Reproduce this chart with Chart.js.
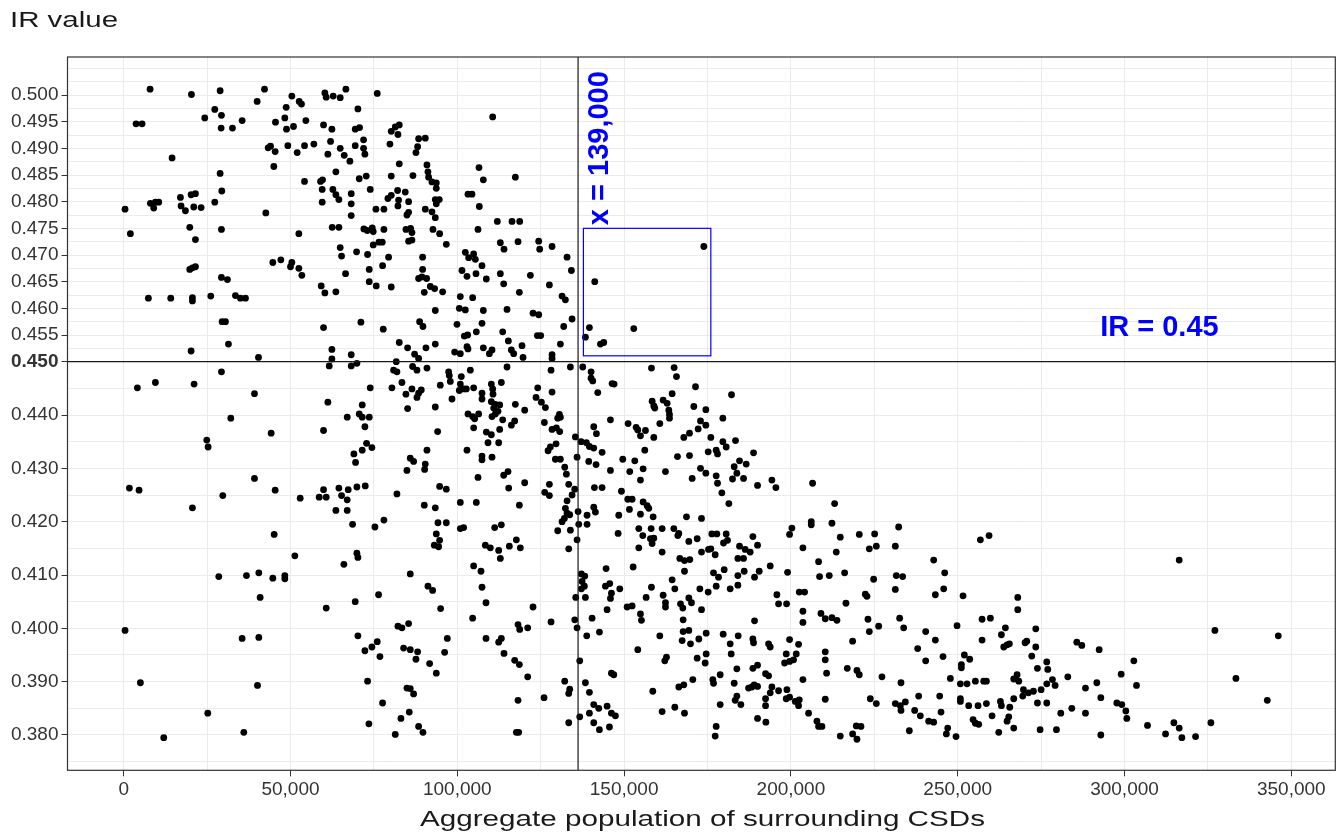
<!DOCTYPE html>
<html>
<head>
<meta charset="utf-8">
<title>IR value vs aggregate population of surrounding CSDs</title>
<script src="https://cdn.jsdelivr.net/npm/chart.js@4.4.1/dist/chart.umd.min.js"></script>
<style>
  html, body { margin: 0; padding: 0; background: #fff; }
  #wrap { width: 1340px; height: 836px; }
</style>
</head>
<body>
<div id="wrap"><canvas id="irChart" width="1340" height="836"></canvas></div>
<script>
// aggregate population of surrounding CSDs, in thousands
const popK = [
  7.9, 20.3, 28.9, 42.2, 40.0, 50.4, 52.6, 53.3, 48.7, 27.3,
  29.3, 24.3, 35.5, 29.2, 32.6, 3.7, 5.5, 45.5, 48.3, 48.8,
  50.9, 54.6, 60.3, 60.7, 62.8, 64.9, 66.6, 76.0, 70.2, 59.9,
  62.4, 69.4, 70.7, 71.9, 44.0, 43.3, 45.4, 49.2, 52.0, 54.2,
  57.0, 62.0, 64.9, 61.2, 66.1, 67.8, 69.4, 71.9, 72.3, 14.5,
  45.0, 28.9, 63.6, 54.2, 59.0, 59.6, 59.5, 62.7, 70.6, 72.7,
  73.9, 29.4, 27.3, 17.0, 20.2, 21.5, 8.0, 9.5, 9.0, 10.5,
  0.4, 17.2, 18.5, 21.0, 23.2, 42.6, 63.6, 64.5, 68.2, 68.2,
  59.5, 68.2, 75.6, 78.0, 2.0, 19.8, 21.5, 29.3, 52.5, 62.5,
  64.5, 72.0, 73.0, 74.5, 74.8, 78.0, 74.8, 76.5, 77.5, 64.9,
  65.3, 69.8, 73.1, 44.7, 47.1, 50.4, 50.0, 52.5, 53.4, 19.8,
  21.5, 20.6, 29.3, 31.1, 73.6, 77.6, 66.5, 73.6, 75.7, 59.2,
  60.3, 63.6,
  110.6, 80.2, 81.4, 82.6, 82.2, 79.8, 88.4, 90.4, 88.1, 87.6,
  82.6, 80.2, 86.7, 90.9, 91.2, 91.4, 92.4, 93.7, 93.7, 106.5,
  107.8, 117.4, 103.2, 104.4, 106.6, 82.1, 84.4, 80.2, 79.2, 82.4,
  85.4, 82.2, 93.4, 94.6, 93.7, 90.4, 92.4, 93.4, 84.9, 85.4,
  84.6, 86.0, 86.4, 92.7, 94.7, 96.7, 86.4, 85.4, 106.2, 112.0,
  116.4, 118.7, 112.9, 114.0, 118.2, 124.4, 124.7, 128.4, 79.4, 89.6,
  89.6, 88.4, 89.4, 90.8, 91.9, 93.2, 95.6, 90.1, 80.2, 102.4,
  103.4, 104.9, 105.4, 107.4, 101.4, 102.9, 105.6, 108.7, 112.9, 113.9,
  121.9, 127.6, 132.9, 134.2, 118.6, 141.2, 173.9,
  7.4, 14.1, 20.6, 20.6, 26.1, 33.5, 35.0, 36.5, 29.5, 30.5,
  31.4, 20.2, 40.4, 29.3, 9.5, 4.1, 21.1, 39.2, 32.1, 44.2,
  24.9, 25.3, 39.2, 1.7, 4.6, 45.4, 29.7, 20.6, 59.9, 71.1,
  77.8, 62.4, 62.4, 61.6, 68.2, 68.2, 69.9, 73.9, 61.2, 71.5,
  67.0, 70.6, 71.5, 73.6, 72.3, 59.9, 72.8, 74.4, 71.5, 69.0,
  69.5, 59.9, 64.5, 67.3, 69.9, 72.4, 52.9, 58.6, 60.7, 65.3,
  67.0, 63.6, 67.0, 68.6, 75.3, 78.0, 45.1,
  100.9, 104.6, 131.4, 132.4, 93.4, 100.6, 102.4, 107.8, 114.9, 122.7,
  124.4, 134.4, 88.7, 89.7, 99.9, 107.4, 105.7, 103.1, 102.1, 113.6,
  124.0, 125.0, 131.9, 139.6, 138.4, 152.9, 142.9, 143.9, 82.6, 85.1,
  90.6, 93.4, 87.2, 88.4, 99.2, 100.9, 102.9, 103.2, 107.8, 110.4,
  109.6, 115.3, 116.2, 116.9, 119.4, 119.7, 130.9, 128.4, 128.4, 81.7,
  80.9, 81.9, 86.6, 87.9, 90.9, 97.4, 97.6, 101.2, 103.9, 114.9,
  128.1, 133.9, 137.6, 140.1, 140.1, 140.6, 158.2, 165.0, 165.7, 80.4,
  83.4, 86.4, 84.6, 89.2, 88.4, 87.9, 94.9, 97.9, 100.9, 100.6,
  101.9, 102.7, 104.9, 107.4, 107.4, 110.2, 110.6, 110.7, 113.2, 124.1,
  128.4, 146.4, 147.0, 142.1, 171.4, 164.4, 85.1, 93.4, 98.4, 110.2,
  111.4, 112.7, 110.9, 112.2, 111.4, 110.4, 103.2, 104.6, 106.4, 105.2,
  117.4, 120.2, 123.6, 125.2, 126.4, 130.6, 130.9, 130.1, 158.4, 158.9,
  159.2, 161.7, 162.9, 163.4, 163.6, 163.6, 170.9, 172.9, 145.9, 113.6,
  112.7, 117.2, 116.2, 104.9, 108.7, 110.2, 109.2, 112.4, 94.1, 126.1,
  128.4, 129.7, 130.7, 135.4, 137.1, 138.7, 139.6, 140.9, 140.9, 141.7,
  143.4, 151.2, 153.6, 154.1, 154.9, 156.4, 158.9, 160.7, 167.9, 169.6,
  172.2, 156.2, 90.9, 102.9, 85.9, 86.9, 84.9, 90.4, 90.2, 107.4,
  107.4, 110.4, 127.2, 127.9, 129.6, 129.4, 130.9, 132.2, 132.7, 135.9,
  139.4, 141.6, 145.9, 149.6, 153.2, 151.7, 155.7, 154.9, 162.4, 166.0,
  169.6, 172.9, 170.4, 106.2, 113.9, 115.2, 94.7, 96.7, 81.9, 115.4,
  120.2, 127.6, 126.2, 127.6, 133.4, 135.2, 134.4, 132.9, 136.2, 141.1,
  143.4, 149.2, 151.1, 152.4, 155.7, 156.9, 90.1, 93.4, 100.9, 105.7,
  118.6, 132.4, 132.9, 132.1, 131.4, 133.7, 140.9, 141.4, 138.9, 136.4,
  138.9, 148.4, 151.6, 154.9, 157.4, 158.7, 168.7, 173.2, 94.2, 96.7,
  100.9, 101.9, 111.2, 113.2, 93.7, 130.1, 133.9, 148.2, 154.4, 158.1,
  161.4, 164.9, 166.4,
  182.2, 174.5, 174.5, 179.6, 176.0, 179.6, 180.6, 183.4, 175.2, 177.6,
  178.0, 188.8, 184.6, 186.6, 183.0, 183.8, 182.5, 185.8, 174.5, 177.6,
  178.0, 179.3, 190.0, 194.3, 195.5, 206.5, 181.4, 213.1, 200.3, 206.1,
  206.1, 212.3, 232.3,
  51.3, 69.9, 70.2, 66.0, 28.5, 36.8, 40.5, 44.7, 48.3, 48.3,
  40.9, 60.7, 69.4, 76.4, 0.4, 35.5, 40.5, 70.2, 72.3, 74.4,
  76.0, 76.8, 5.0, 40.1, 73.1, 77.6, 25.2, 73.5, 36.0, 12.0,
  94.7, 93.1, 94.4, 108.4, 109.9, 112.4, 112.9, 115.6, 117.7, 118.9,
  135.9, 133.4, 85.9, 91.2, 92.6, 95.0, 104.9, 107.1, 107.4, 108.6,
  104.6, 82.2, 83.4, 85.4, 97.0, 96.2, 83.9, 85.9, 88.1, 87.6,
  91.7, 93.7, 108.6, 112.4, 113.2, 114.0, 117.2, 118.6, 121.1, 118.2,
  118.7, 121.1, 122.7, 128.1, 135.2, 135.9, 84.9, 85.9, 86.9, 85.6,
  83.1, 81.4, 88.4, 89.7, 118.2, 117.7, 118.4, 126.0, 132.2, 133.7,
  133.4, 133.4, 136.7, 136.7, 135.5, 137.2, 138.2, 137.4, 138.1, 137.2,
  138.4, 138.8, 140.4, 142.6, 144.6, 144.4, 145.7, 146.2, 145.9, 144.9,
  148.7, 138.4, 139.6, 140.9, 142.4, 139.6, 140.9, 142.6, 144.9, 146.2,
  147.4, 145.6, 146.2, 146.9, 150.9, 152.4, 154.9, 155.2, 154.1, 152.7,
  154.4, 155.6, 157.9, 158.4, 158.9, 161.4, 166.1, 166.7, 168.1, 169.7,
  168.1, 169.4, 171.9, 173.2, 164.4, 158.2, 165.2, 156.6, 161.7, 162.4,
  162.4, 166.9, 167.6, 169.4, 170.2, 172.7, 173.2, 167.7, 167.7, 169.4,
  167.4, 169.9, 172.4, 160.7, 162.7, 162.2, 171.9, 170.6, 167.9, 166.4,
  158.6, 161.4, 165.2, 168.1,
  176.3, 177.8, 180.6, 188.6, 199.6, 214.8, 220.5, 225.1, 256.8, 259.4,
  175.3, 176.0, 177.3, 179.8, 181.0, 184.6, 186.3, 187.8, 190.0, 184.1,
  185.8, 176.8, 178.3, 180.0, 184.1, 186.0, 189.1, 190.5, 193.8, 199.0,
  175.2, 177.6, 181.8, 184.1, 195.8, 196.3, 198.7, 189.1, 202.5, 204.1,
  203.6, 208.3, 208.6, 211.5, 213.6, 216.1, 203.6, 203.6, 209.0, 210.3,
  212.3, 213.8, 216.5, 222.3, 222.8, 223.5, 225.6, 224.8, 231.3, 231.6,
  233.5, 231.3, 223.1, 223.5, 226.3, 232.6, 233.8, 242.8, 246.1, 243.3,
  245.8, 251.6, 257.3, 259.8, 268.0, 268.0, 264.3, 263.1, 257.3, 264.8,
  263.8, 265.5, 249.8, 240.4, 243.3, 238.0, 240.4, 245.6, 247.8, 252.0,
  253.6, 251.1, 251.1, 250.8, 252.8, 255.3, 257.8, 258.6, 266.8, 267.8,
  268.3, 179.7, 181.8, 182.1, 184.2, 174.6, 174.6, 174.3, 188.6, 188.8,
  193.3, 193.8, 199.6, 202.3, 198.6, 201.6, 198.1, 199.6, 200.8, 210.3,
  210.3, 210.7, 203.6, 183.8, 188.6, 190.0, 192.4, 193.3, 176.6, 176.8,
  178.8, 183.0, 187.3, 188.3, 189.0, 190.0, 194.3, 193.8, 196.3, 198.8,
  198.6, 199.6, 201.3, 202.3, 202.5, 192.4, 192.4, 183.8, 183.3, 185.0,
  178.8, 190.0, 192.5, 177.6, 177.3, 205.3, 207.8, 208.3, 209.3, 210.3,
  216.9, 219.8, 220.5, 218.5, 227.3, 223.8, 225.6, 219.6, 221.0, 218.5,
  219.8, 214.8, 233.0, 231.3, 232.8, 234.3, 233.0, 237.1, 238.8, 238.3,
  235.5, 241.3, 242.8, 244.6, 245.0, 247.0, 246.6, 249.5, 250.8, 250.8,
  253.3, 256.1, 258.6, 254.6, 255.3, 256.3, 260.3, 262.3, 262.8, 263.1,
  265.6, 266.8, 265.3, 264.8, 266.8,
  316.4, 273.4, 270.2, 270.7, 273.4, 272.2, 273.9, 276.7, 277.0, 278.4,
  279.2, 276.7, 275.0, 272.7, 271.2, 269.7, 269.5, 283.0, 285.7, 287.2,
  292.4, 288.3, 291.7, 292.9, 273.9, 276.7, 280.9, 284.2, 288.3, 274.7,
  279.6, 292.9, 302.8, 299.0, 303.6, 297.7, 299.2, 300.4, 300.7, 306.9,
  312.3, 314.8, 316.4, 317.2, 321.3, 325.9, 327.1, 333.4, 342.8, 346.1
];

// IR value of each CSD, same order as popK
const irValues = [
  .5011, .5001, .5008, .5011, .4988, .4998, .4988, .4983, .4977, .4973,
  .4962, .4957, .4952, .4938, .4938, .4946, .4946, .4949, .4957, .4936,
  .4941, .4952, .5004, .4996, .4998, .4995, .5011, .5003, .4974, .4944,
  .4936, .4936, .4939, .4916, .4904, .4901, .4894, .4905, .4892, .4905,
  .4908, .4913, .4900, .4889, .4887, .4876, .4905, .4900, .4889, .4882,
  .4866, .4853, .4856, .4838, .4838, .4841, .4823, .4823, .4843, .4848,
  .4823, .4820, .4799, .4808, .4813, .4815, .4797, .4799, .4788, .4799,
  .4786, .4792, .4783, .4790, .4789, .4779, .4813, .4804, .4815, .4796,
  .4799, .4774, .4786, .4786, .4740, .4752, .4729, .4748, .4740, .4752,
  .4752, .4749, .4746, .4751, .4744, .4748, .4719, .4724, .4724, .4714,
  .4698, .4706, .4701, .4686, .4691, .4686, .4678, .4675, .4662, .4673,
  .4678, .4676, .4658, .4654, .4673, .4680, .4665, .4650, .4642, .4642,
  .4629, .4631,
  .4959, .4932, .4940, .4944, .4926, .4908, .4918, .4919, .4903, .4892,
  .4871, .4848, .4849, .4869, .4856, .4846, .4837, .4835, .4825, .4864,
  .4841, .4846, .4814, .4814, .4791, .4821, .4818, .4812, .4806, .4803,
  .4800, .4792, .4804, .4804, .4796, .4786, .4781, .4770, .4775, .4780,
  .4748, .4750, .4742, .4748, .4740, .4720, .4728, .4726, .4748, .4763,
  .4763, .4763, .4723, .4711, .4725, .4726, .4711, .4716, .4696, .4696,
  .4673, .4656, .4659, .4656, .4641, .4637, .4631, .4630, .4640, .4705,
  .4695, .4702, .4692, .4680, .4671, .4660, .4665, .4655, .4665, .4646,
  .4662, .4644, .4696, .4671, .4630, .4650, .4716,
  .4619, .4619, .4620, .4614, .4623, .4624, .4619, .4619, .4575, .4575,
  .4533, .4520, .4508, .4481, .4461, .4451, .4458, .4440, .4394, .4366,
  .4353, .4340, .4281, .4263, .4259, .4259, .4249, .4226, .4564, .4574,
  .4561, .4523, .4505, .4492, .4513, .4492, .4497, .4451, .4424, .4419,
  .4396, .4402, .4396, .4396, .4378, .4371, .4347, .4339, .4334, .4327,
  .4311, .4260, .4263, .4260, .4265, .4267, .4244, .4246, .4246, .4249,
  .4241, .4221, .4221, .4195, .4190, .4203, .4176,
  .4622, .4620, .4623, .4616, .4596, .4600, .4597, .4596, .4598, .4591,
  .4588, .4580, .4575, .4566, .4570, .4572, .4556, .4550, .4548, .4556,
  .4549, .4549, .4566, .4564, .4546, .4562, .4533, .4536, .4536, .4526,
  .4526, .4533, .4514, .4506, .4518, .4515, .4528, .4524, .4526, .4522,
  .4515, .4539, .4522, .4515, .4530, .4508, .4533, .4513, .4506, .4500,
  .4484, .4481, .4491, .4484, .4488, .4481, .4474, .4472, .4484, .4490,
  .4484, .4490, .4490, .4481, .4469, .4464, .4488, .4489, .4472, .4451,
  .4461, .4449, .4439, .4447, .4441, .4433, .4456, .4463, .4458, .4446,
  .4449, .4449, .4451, .4441, .4430, .4458, .4449, .4439, .4461, .4451,
  .4443, .4459, .4458, .4442, .4453, .4440, .4412, .4415, .4430, .4425,
  .4420, .4419, .4413, .4407, .4402, .4397, .4402, .4397, .4402, .4393,
  .4420, .4409, .4433, .4424, .4414, .4401, .4396, .4394, .4426, .4417,
  .4413, .4428, .4422, .4409, .4401, .4394, .4416, .4389, .4391, .4391,
  .4373, .4389, .4381, .4376, .4368, .4363, .4348, .4348, .4369, .4386,
  .4373, .4376, .4369, .4359, .4350, .4348, .4341, .4338, .4378, .4365,
  .4330, .4384, .4377, .4372, .4361, .4371, .4358, .4384, .4358, .4366,
  .4374, .4334, .4334, .4334, .4319, .4313, .4296, .4308, .4298, .4323,
  .4316, .4321, .4333, .4340, .4346, .4317, .4317, .4302, .4289, .4321,
  .4313, .4307, .4296, .4317, .4314, .4294, .4299, .4278, .4294, .4322,
  .4324, .4300, .4281, .4283, .4287, .4294, .4266, .4261, .4252, .4263,
  .4273, .4270, .4255, .4249, .4270, .4261, .4250, .4239, .4219, .4264,
  .4264, .4257, .4242, .4242, .4237, .4230, .4231, .4226, .4236, .4236,
  .4231, .4225, .4216, .4206, .4200, .4213, .4227, .4218, .4212, .4195,
  .4195, .4212, .4223, .4214, .4225, .4209, .4209, .4206, .4198, .4198,
  .4187, .4189, .4189, .4194, .4177, .4183, .4184, .4178, .4187, .4187,
  .4187, .4187, .4178,
  .4438, .4410, .4381, .4394, .4358, .4350, .4340, .4352, .4331, .4334,
  .4327, .4329, .4314, .4308, .4303, .4291, .4280, .4281, .4291, .4286,
  .4272, .4254, .4268, .4278, .4264, .4272, .4234, .4234, .4188, .4200,
  .4194, .4197, .4190,
  .4136, .4141, .4133, .4120, .4097, .4099, .4104, .4094, .4099, .4093,
  .4058, .4038, .4050, .4063, .3996, .3981, .3983, .3986, .3958, .3965,
  .3975, .3947, .3898, .3893, .3901, .3860, .3841, .3821, .3805, .3795,
  .4165, .4156, .4153, .4156, .4151, .4146, .4131, .4154, .4166, .4151,
  .4166, .4149, .4102, .4079, .4071, .4037, .4117, .4107, .4077, .4048,
  .4019, .4004, .4001, .4009, .3981, .3955, .3963, .3960, .3956, .3942,
  .3934, .3916, .3981, .3974, .3981, .3953, .3940, .3932, .3909, .4007,
  .3998, .4001, .4040, .4012, .4016, .4001, .3888, .3887, .3877, .3843,
  .3831, .3801, .3816, .3805, .3865, .3805, .3805, .3870, .3901, .3886,
  .3878, .3823, .3939, .3834, .4058, .4102, .4098, .4088, .4079, .4074,
  .4058, .3986, .4019, .3993, .4112, .4079, .4084, .4066, .4056, .4035,
  .4074, .3898, .3880, .3857, .3850, .3841, .3823, .3810, .3854, .3841,
  .3836, .3815, .3916, .3913, .4040, .4042, .4027, .4015, .3960, .4115,
  .4151, .4174, .4168, .4159, .4169, .4143, .4174, .4131, .4127, .4129,
  .4107, .4163, .4168, .4143, .4091, .4077, .4074, .4058, .4062, .4048,
  .4040, .4046, .4038, .4057, .4048, .4074, .4035, .4016, .3994, .3996,
  .3977, .3971, .3980, .3986, .3946, .3939, .3944, .3904, .3894, .3890,
  .3882, .3844, .3852, .3841,
  .4177, .4177, .4177, .4172, .4176, .4171, .4176, .4177, .4166, .4174,
  .4148, .4149, .4138, .4160, .4165, .4154, .4148, .4143, .4156, .4131,
  .4131, .4104, .4096, .4110, .4099, .4107, .4096, .4107, .4117, .4105,
  .4068, .4079, .4074, .4081, .4063, .4046, .4046, .4014, .4068, .4068,
  .4151, .4125, .4097, .4099, .4143, .4104, .4032, .4011, .4028, .4018,
  .4020, .4015, .4047, .4064, .4060, .4149, .4154, .4092, .4154, .4099,
  .4097, .4073, .4017, .3994, .4004, .4019, .4001, .4128, .4104, .4063,
  .4074, .4061, .4017, .4019, .4058, .4035, .4001, .3988, .3978, .3969,
  .3965, .3971, .4005, .3994, .3978, .3962, .3939, .3947, .3906, .3950,
  .3942, .3932, .3926, .3896, .3896, .3901, .3901, .3901, .3905, .3913,
  .3901, .3989, .3971, .3952, .3986, .3991, .3952, .3935, .3980, .3973,
  .3971, .3965, .3979, .3970, .3952, .3952, .3935, .3938, .3941, .3956,
  .3941, .3916, .3904, .3924, .3925, .3931, .3915, .3911, .3904, .3897,
  .3913, .3897, .3888, .3890, .3894, .3891, .3890, .3879, .3883, .3885,
  .3868, .3871, .3863, .3855, .3866, .3868, .3855, .3873, .3865, .3857,
  .3857, .3831, .3824, .3816, .3798, .3841, .3826, .3816, .3816, .3867,
  .3925, .3921, .3913, .3976, .3909, .3868, .3859, .3817, .3816, .3802,
  .3792, .3798, .3898, .3859, .3855, .3862, .3846, .3846, .3836, .3873,
  .3808, .3826, .3824, .3873, .3843, .3813, .3802, .3797, .3868, .3863,
  .3855, .3855, .3859, .3829, .3822, .3820, .3836, .3805, .3863, .3855,
  .3852, .3868, .3834, .3826, .3813,
  .4128, .3999, .3973, .3976, .3965, .3948, .3925, .3937, .3923, .3904,
  .3893, .3896, .3885, .3882, .3879, .3885, .3873, .3909, .3974, .3968,
  .3960, .3888, .3898, .3870, .3860, .3860, .3841, .3850, .3841, .3810,
  .3810, .3800, .3939, .3914, .3893, .3860, .3857, .3845, .3831, .3818,
  .3802, .3823, .3813, .3795, .3797, .3823, .3996, .3906, .3865, .3986
];

const xTickLabels = [0, 50000, 100000, 150000, 200000, 250000, 300000, 350000];
const xMinorGrid = [25000, 75000, 125000, 175000, 225000, 275000, 325000];
const yTickLabels = [0.38, 0.39, 0.40, 0.41, 0.42, 0.43, 0.44, 0.45, 0.455,
  0.46, 0.465, 0.47, 0.475, 0.48, 0.485, 0.49, 0.495, 0.50];
const yMinorGrid = [0.375, 0.385, 0.395, 0.405, 0.415, 0.425, 0.435, 0.445,
  0.4525, 0.4575, 0.4625, 0.4675, 0.4725, 0.4775, 0.4825, 0.4875, 0.4925, 0.4975,
  0.5025, 0.505];

const refX = 136200;
const refY = 0.45;
const boxX = [137800, 176000];
const boxY = [0.4511, 0.475];

const points = popK.map((p, i) => ({ x: p * 1000, y: irValues[i] }));

const FONT = "'Liberation Sans', Arial, sans-serif";

function drawStretched(ctx, text, x, y, font, width) {
  ctx.font = font;
  const w = ctx.measureText(text).width;
  ctx.save();
  ctx.translate(x, y);
  ctx.scale(width / w, 1);
  ctx.fillText(text, 0, 0);
  ctx.restore();
}

const overlay = {
  id: "overlay",
  afterDatasetsDraw(chart) {
    const { ctx, chartArea: a, scales } = chart;
    const x = scales.x, y = scales.y;
    ctx.save();

    // reference lines
    const lx = x.getPixelForValue(refX);
    const ly = y.getPixelForValue(refY);
    ctx.strokeStyle = "#1a1a1a";
    ctx.lineWidth = 1.2;
    ctx.beginPath();
    ctx.moveTo(a.left, ly);
    ctx.lineTo(a.right, ly);
    ctx.moveTo(lx, a.top);
    ctx.lineTo(lx, a.bottom);
    ctx.stroke();

    // highlight box
    const bx0 = x.getPixelForValue(boxX[0]);
    const bx1 = x.getPixelForValue(boxX[1]);
    const by0 = y.getPixelForValue(boxY[1]);
    const by1 = y.getPixelForValue(boxY[0]);
    ctx.strokeStyle = "#0000ff";
    ctx.lineWidth = 1.2;
    ctx.strokeRect(bx0, by0, bx1 - bx0, by1 - by0);

    // blue labels
    ctx.fillStyle = "#0000ff";
    ctx.textAlign = "left";
    ctx.textBaseline = "middle";
    ctx.font = "bold 29px " + FONT;
    ctx.fillText("IR = 0.45", x.getPixelForValue(292700), y.getPixelForValue(0.4563));

    ctx.translate(x.getPixelForValue(142900), y.getPixelForValue(0.4756));
    ctx.rotate(-Math.PI / 2);
    ctx.fillText("x = 139,000", 0, 0);
    ctx.restore();

    // panel border
    ctx.save();
    ctx.strokeStyle = "#333333";
    ctx.lineWidth = 1.2;
    ctx.strokeRect(a.left, a.top, a.right - a.left, a.bottom - a.top);
    ctx.restore();
  },
  afterDraw(chart) {
    const { ctx } = chart;
    ctx.save();
    ctx.fillStyle = "#1a1a1a";
    ctx.textAlign = "left";
    ctx.textBaseline = "alphabetic";
    drawStretched(ctx, "IR value", 10, 27, "22px " + FONT, 108);
    drawStretched(ctx, "Aggregate population of surrounding CSDs", 420, 826, "22px " + FONT, 565);
    ctx.restore();
  }
};

function isIn(list, v) {
  return list.some(t => Math.abs(t - v) < 1e-9);
}

const ctx = document.getElementById("irChart").getContext("2d");
new Chart(ctx, {
  type: "scatter",
  data: {
    datasets: [{
      data: points,
      pointRadius: 3.4,
      pointHoverRadius: 3.4,
      pointBackgroundColor: "#000000",
      pointBorderWidth: 0
    }]
  },
  options: {
    responsive: false,
    animation: false,
    devicePixelRatio: 1,
    layout: { padding: { top: 57, right: 4.7, left: 0, bottom: 0 } },
    plugins: { legend: { display: false }, tooltip: { enabled: false } },
    scales: {
      x: {
        type: "linear",
        min: -16850,
        max: 363190,
        afterFit(scale) { scale.height = 65.7; },
        afterBuildTicks(scale) {
          scale.ticks = xTickLabels.concat(xMinorGrid).sort((a, b) => a - b).map(v => ({ value: v }));
        },
        border: { display: false },
        grid: {
          color: "#ebebeb",
          lineWidth: 1,
          tickLength: 6,
          tickColor: c => (c.tick && isIn(xTickLabels, c.tick.value)) ? "#333333" : "rgba(0,0,0,0)"
        },
        ticks: {
          autoSkip: false,
          maxRotation: 0,
          padding: 2,
          color: "#333333",
          font: { family: FONT, size: 19 },
          callback: v => isIn(xTickLabels, v) ? v.toLocaleString("en-US") : ""
        }
      },
      y: {
        type: "linear",
        min: 0.37338,
        max: 0.50713,
        afterFit(scale) { scale.width = 67.5; },
        afterBuildTicks(scale) {
          scale.ticks = yTickLabels.concat(yMinorGrid).sort((a, b) => a - b).map(v => ({ value: v }));
        },
        border: { display: false },
        grid: {
          color: "#ebebeb",
          lineWidth: 1,
          tickLength: 6,
          tickColor: c => (c.tick && isIn(yTickLabels, c.tick.value)) ? "#333333" : "rgba(0,0,0,0)"
        },
        ticks: {
          autoSkip: false,
          padding: 3,
          color: "#333333",
          font: c => ({
            family: FONT,
            size: 19,
            weight: (c.tick && Math.abs(c.tick.value - 0.45) < 1e-9) ? "bold" : "normal"
          }),
          callback: v => isIn(yTickLabels, v) ? v.toFixed(3) : ""
        }
      }
    }
  },
  plugins: [overlay]
});
</script>
</body>
</html>
